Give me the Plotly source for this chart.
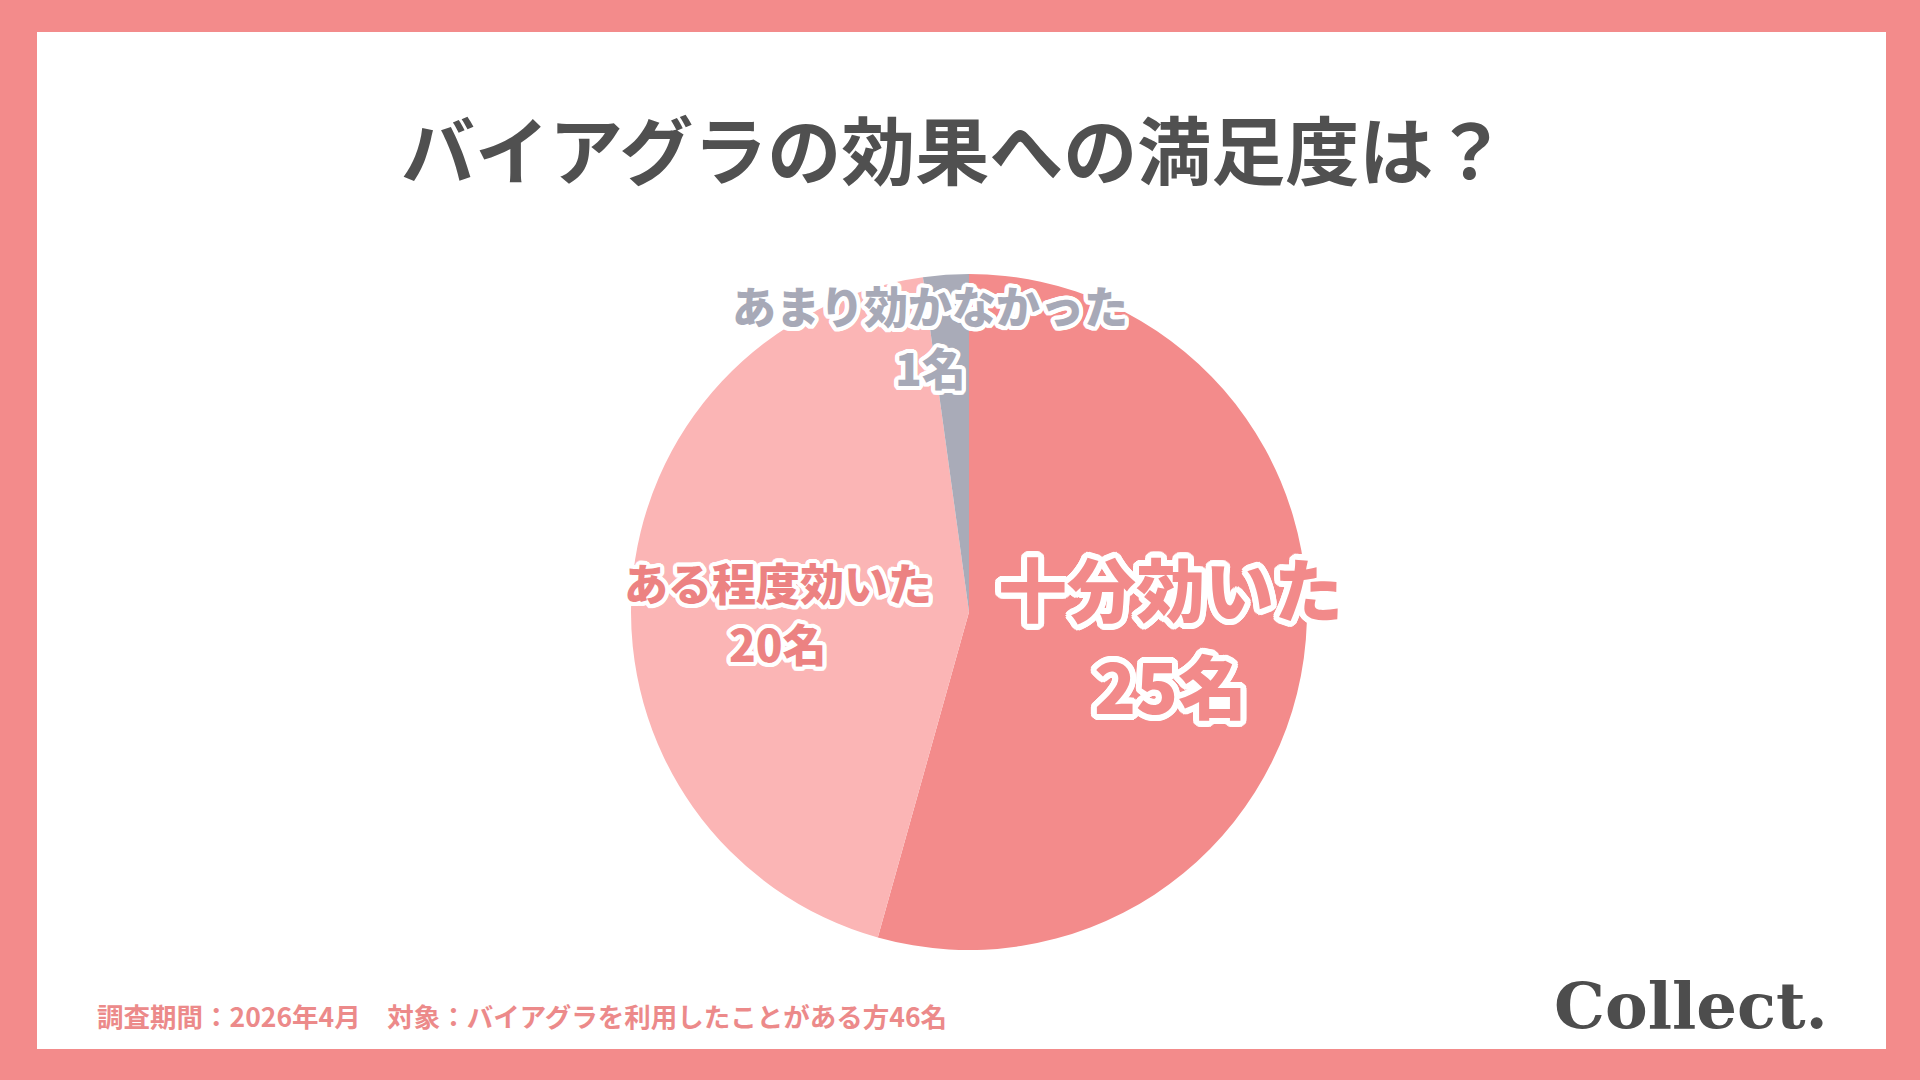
import math
import plotly.graph_objects as go

# ---- data ----
categories = ["十分効いた", "ある程度効いた", "あまり効かなかった"]
counts = [25, 20, 1]
count_labels = ["25名", "20名", "1名"]
title_text = "バイアグラの効果への満足度は？"
footer_text = "調査期間：2026年4月　対象：バイアグラを利用したことがある方46名"
logo_text = "Collect."

# ---- styles ----
W, H = 1920, 1080
PINK = "#F38B8B"
LIGHT = "#FBB5B5"
GRAY = "#A9ABB8"
slice_colors = [PINK, LIGHT, GRAY]
label_colors = ["#F28A8A", "#EC8282", "#A7A9B7"]
JP = "Noto Sans CJK JP"


def outline(r, color="white", n=24):
    parts = []
    for k in range(n):
        a = 2 * math.pi * k / n
        parts.append(f"{r*math.cos(a):.1f}px {r*math.sin(a):.1f}px 0 {color}")
    return ", ".join(parts)


def px(x):
    return x / W


def py(y):
    return 1 - y / H


cx, cy, R = 969, 612, 338

fig = go.Figure()
fig.add_trace(go.Pie(
    labels=categories,
    values=counts,
    sort=False,
    direction="clockwise",
    rotation=0,
    textinfo="none",
    hoverinfo="label+value",
    marker=dict(colors=slice_colors, line=dict(width=0)),
    domain=dict(x=[px(cx - R), px(cx + R)], y=[py(cy + R), py(cy - R)]),
    showlegend=False,
))

# label layout (name line, count line) positions in pixels
label_pos = [
    dict(x=1170, y1=587, y2=684, size=69, stroke=6),
    dict(x=778, y1=582, y2=643, size=44, stroke=4),
    dict(x=930, y1=305, y2=367, size=44, stroke=4),
]

annotations = []
for name, cnt, col, p in zip(categories, count_labels, label_colors, label_pos):
    for txt, yy in ((name, p["y1"]), (cnt, p["y2"])):
        annotations.append(dict(
            x=px(p["x"]), y=py(yy), xref="paper", yref="paper",
            xanchor="center", yanchor="middle", showarrow=False,
            text=txt,
            font=dict(family=JP, size=p["size"], color=col, weight=900,
                      shadow=outline(p["stroke"])),
        ))

annotations.append(dict(
    x=px(954), y=py(146), xref="paper", yref="paper", xanchor="center",
    yanchor="middle", showarrow=False, text=title_text,
    font=dict(family=JP, size=74, color="#505050", weight=700),
))
annotations.append(dict(
    x=px(95), y=py(1015), xref="paper", yref="paper", xanchor="left",
    yanchor="middle", showarrow=False, text=footer_text,
    font=dict(family=JP, size=26.5, color="#EC8A8A", weight=700),
))
annotations.append(dict(
    x=px(1830), y=py(1005), xref="paper", yref="paper", xanchor="right",
    yanchor="middle", showarrow=False, text=logo_text,
    font=dict(family="DejaVu Serif", size=64, color="#4D4D4D", weight=700),
))

fig.update_layout(
    width=W, height=H,
    margin=dict(l=0, r=0, t=0, b=0),
    paper_bgcolor=PINK,
    plot_bgcolor="white",
    shapes=[dict(type="rect", xref="paper", yref="paper",
                 x0=px(37), x1=px(1886), y0=py(1049), y1=py(32),
                 fillcolor="white", line=dict(width=0), layer="below")],
    annotations=annotations,
)

fig.write_html("out.html")
